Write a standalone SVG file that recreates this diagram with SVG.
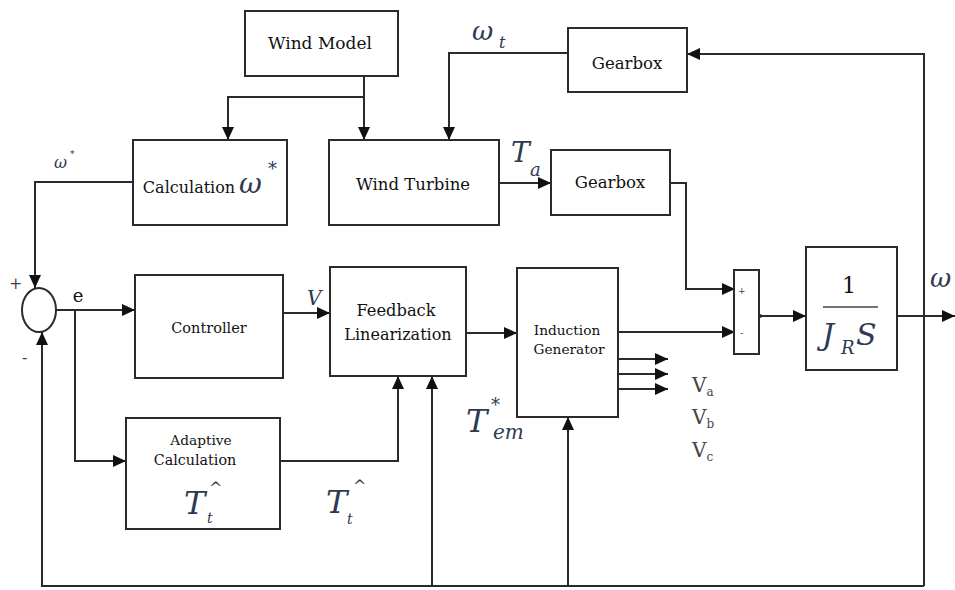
<svg xmlns="http://www.w3.org/2000/svg" width="955" height="590" viewBox="0 0 955 590">
<style>
.box{fill:#fff;stroke:#2b2b2b;stroke-width:2}
.ln{fill:none;stroke:#2b2b2b;stroke-width:2}
.t{font-family:"DejaVu Serif","Liberation Serif",serif;fill:#111;text-anchor:middle}
.m{font-family:"DejaVu Serif","Liberation Serif",serif;font-style:italic;fill:#2e3a52}
.s{font-family:"DejaVu Serif","Liberation Serif",serif;fill:#444}
</style>
<defs>
<marker id="ah" markerUnits="userSpaceOnUse" markerWidth="14" markerHeight="14" refX="13" refY="6" orient="auto">
<path d="M0,0 L13,6 L0,12 z" fill="#111"/>
</marker>
</defs>
<rect width="955" height="590" fill="#fff"/>

<g id="connectors">
<path class="ln" d="M364,76 V97 H228 V140" marker-end="url(#ah)"/>
<path class="ln" d="M364,97 V140" marker-end="url(#ah)"/>
<path class="ln" d="M568,53 H449 V140" marker-end="url(#ah)"/>
<path class="ln" d="M924,586 V54 H687" marker-end="url(#ah)"/>
<path class="ln" d="M499,183 H551" marker-end="url(#ah)"/>
<path class="ln" d="M670,183 H686 V289 H735" marker-end="url(#ah)"/>
<path class="ln" d="M133,182 H35 V288" marker-end="url(#ah)"/>
<path class="ln" d="M56,310 H135" marker-end="url(#ah)"/>
<path class="ln" d="M75,310 V461 H126" marker-end="url(#ah)"/>
<path class="ln" d="M283,313 H330" marker-end="url(#ah)"/>
<path class="ln" d="M466,333 H517" marker-end="url(#ah)"/>
<path class="ln" d="M280,461 H398 V376" marker-end="url(#ah)"/>
<path class="ln" d="M618,332 H735" marker-end="url(#ah)"/>
<path class="ln" d="M618,359 H668" marker-end="url(#ah)"/>
<path class="ln" d="M618,374 H668" marker-end="url(#ah)"/>
<path class="ln" d="M618,389 H668" marker-end="url(#ah)"/>
<path class="ln" d="M759,316 H806" marker-end="url(#ah)"/>
<circle cx="760" cy="316" r="2" fill="#2b2b2b"/>
<path class="ln" d="M897,316 H955" marker-end="url(#ah)"/>
<path class="ln" d="M924,586 H42 V332" marker-end="url(#ah)"/>
<path class="ln" d="M432,586 V376" marker-end="url(#ah)"/>
<path class="ln" d="M568,586 V417" marker-end="url(#ah)"/>
</g>

<g id="wind-model">
<rect class="box" x="245" y="11" width="153" height="65"/>
<text class="t" x="320" y="49" font-size="17">Wind Model</text>
</g>

<g id="gearbox-top">
<rect class="box" x="568" y="28" width="119" height="64"/>
<text class="t" x="627" y="69" font-size="16.5">Gearbox</text>
</g>

<g id="calculation">
<rect class="box" x="133" y="140" width="154" height="85"/>
<text class="t" x="189" y="193" font-size="16">Calculation</text>
<text class="m" x="239" y="193" font-size="28">ω</text>
<text class="m" x="268" y="175" font-size="18">*</text>
</g>

<g id="wind-turbine">
<rect class="box" x="329" y="140" width="170" height="85"/>
<text class="t" x="413" y="190" font-size="16.5">Wind Turbine</text>
</g>

<g id="gearbox-mid">
<rect class="box" x="551" y="150" width="119" height="65"/>
<text class="t" x="610" y="188" font-size="16.5">Gearbox</text>
</g>

<g id="summing-junction">
<ellipse cx="39" cy="310" rx="17" ry="22" fill="#fff" stroke="#2b2b2b" stroke-width="2"/>
<text class="s" x="9" y="289" font-size="16" fill="#777">+</text>
<text class="s" x="22" y="363" font-size="16" fill="#777">-</text>
</g>

<g id="controller">
<rect class="box" x="135" y="275" width="148" height="103"/>
<text class="t" x="209" y="333" font-size="14.5">Controller</text>
</g>

<g id="feedback-linearization">
<rect class="box" x="330" y="267" width="136" height="109"/>
<text class="t" x="396" y="316" font-size="16.3">Feedback</text>
<text class="t" x="398" y="340" font-size="16">Linearization</text>
</g>

<g id="induction-generator">
<rect class="box" x="517" y="268" width="101" height="149"/>
<text class="t" x="567" y="335" font-size="13.7">Induction</text>
<text class="t" x="569" y="354" font-size="13.7">Generator</text>
</g>

<g id="adaptive-calculation">
<rect class="box" x="126" y="418" width="154" height="111"/>
<text class="t" x="201" y="445" font-size="13.7">Adaptive</text>
<text class="t" x="195" y="465" font-size="14.3">Calculation</text>
<text class="m" x="184" y="514" font-size="32">T</text>
<text class="m" x="207" y="523" font-size="14">t</text>
<text class="m" x="209" y="494" font-size="16">^</text>
</g>

<g id="summation">
<rect class="box" x="734" y="270" width="25" height="84"/>
<text class="s" x="738" y="294" font-size="9">+</text>
<text class="s" x="740" y="336" font-size="10">-</text>
</g>

<g id="inertia">
<rect class="box" x="806" y="247" width="91" height="123"/>
<text class="t" x="849" y="293" font-size="22" fill="#222">1</text>
<line x1="823" y1="307" x2="878" y2="307" stroke="#444" stroke-width="1.5"/>
<text class="m" x="822" y="345" font-size="30">J</text>
<text class="m" x="841" y="354" font-size="18">R</text>
<text class="m" x="856" y="345" font-size="30">S</text>
</g>

<g id="labels">
<text class="m" x="54" y="168" font-size="16">ω</text>
<text class="m" x="70" y="157" font-size="9">*</text>
<text class="t" x="78" y="302" font-size="18">e</text>
<text class="m" x="307" y="305" font-size="20">V</text>
<text class="m" x="472" y="40" font-size="26">ω</text>
<text class="m" x="499" y="48" font-size="16">t</text>
<text class="m" x="511" y="162" font-size="28">T</text>
<text class="m" x="530" y="176" font-size="18">a</text>
<text class="m" x="930" y="287" font-size="26">ω</text>
<text class="m" x="326" y="513" font-size="32">T</text>
<text class="m" x="347" y="524" font-size="14">t</text>
<text class="m" x="353" y="492" font-size="16">^</text>
<text class="m" x="466" y="432" font-size="32">T</text>
<text class="m" x="491" y="411" font-size="18">*</text>
<text class="m" x="493" y="439" font-size="20">em</text>
<text class="s" x="692" y="392" font-size="20" fill="#333">V<tspan font-size="12" dy="4">a</tspan></text>
<text class="s" x="692" y="424" font-size="20" fill="#333">V<tspan font-size="12" dy="4">b</tspan></text>
<text class="s" x="692" y="457" font-size="20" fill="#333">V<tspan font-size="12" dy="4">c</tspan></text>
</g>
</svg>
